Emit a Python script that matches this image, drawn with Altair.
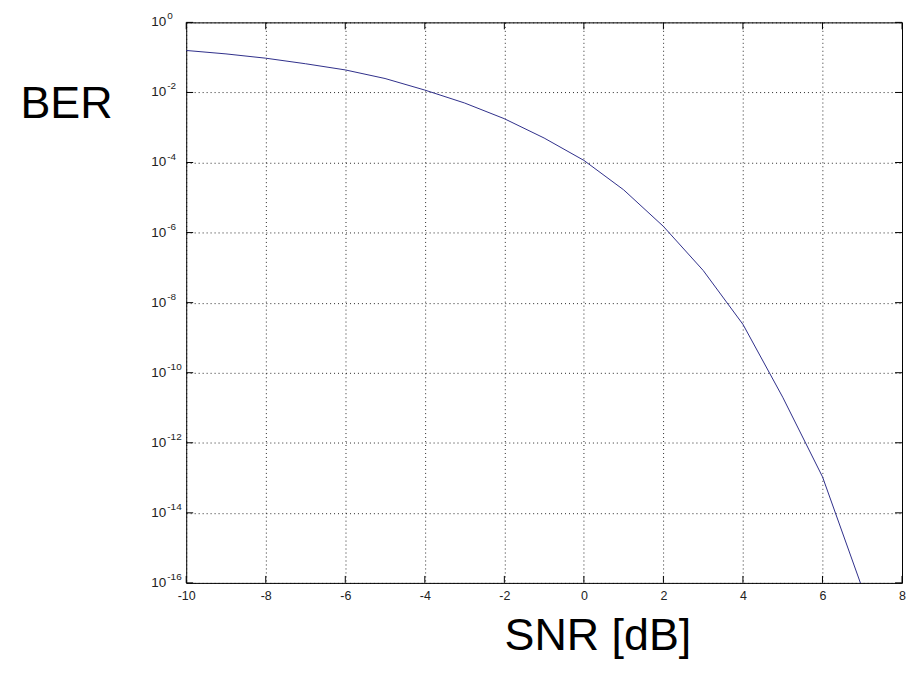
import altair as alt
import pandas as pd

# Data (SNR in dB, bit error rate)
SNR_DB = [-10, -9, -8, -7, -6, -5, -4, -3, -2, -1, 0, 1, 2, 3, 4, 5, 6, 7]
BER = [1.58e-1, 1.26e-1, 9.5e-2, 6.6e-2, 4.4e-2, 2.5e-2, 1.17e-2, 5.0e-3,
       1.78e-3, 5.0e-4, 1.15e-4, 1.66e-5, 1.5e-6, 8.3e-8, 2.4e-9, 2.0e-11,
       1.07e-13, 7.1e-17]

X_TICKS = [-10, -8, -6, -4, -2, 0, 2, 4, 6, 8]
Y_TICKS = [1e0, 1e-2, 1e-4, 1e-6, 1e-8, 1e-10, 1e-12, 1e-14, 1e-16]
Y_TICK_BASE = ["10"] * len(Y_TICKS)
Y_TICK_EXP = ["0", "-2", "-4", "-6", "-8", "-10", "-12", "-14", "-16"]

W, H = 719, 563
FONT = "Liberation Sans"

df = pd.DataFrame({"snr": SNR_DB, "ber": BER})
xt = pd.DataFrame({"snr": X_TICKS})
yt = pd.DataFrame({"ber": Y_TICKS, "base": Y_TICK_BASE, "exp": Y_TICK_EXP})

x_scale = alt.Scale(domain=[-10, 8], nice=False, zero=False)
y_scale = alt.Scale(type="log", domain=[1e-16, 1], nice=False)

x_axis = alt.Axis(
    values=X_TICKS, title="SNR [dB]", labelExpr="'' + datum.value",
    tickSize=0, domain=False, grid=True, gridColor="black", gridDash=[1, 3],
    gridWidth=1, gridOpacity=0.85, labelFont=FONT, labelFontSize=12.5,
    labelColor="#222222", labelPadding=7, labelFlush=False, labelOverlap=False,
    titleFont=FONT, titleFontSize=45, titleFontWeight="normal", titleColor="black",
    titleX=413, titleY=67, titleAlign="center", titleBaseline="alphabetic",
)
y_axis = alt.Axis(
    values=Y_TICKS, title="BER", labels=False,
    tickSize=0, domain=False, grid=True, gridColor="black", gridDash=[1, 3],
    gridWidth=1, gridOpacity=0.85,
    titleFont=FONT, titleFontSize=45, titleFontWeight="normal", titleColor="black",
    titleAngle=0, titleX=-167, titleY=96, titleAlign="left", titleBaseline="alphabetic",
)

line = alt.Chart(df).mark_line(color="#2e2e8a", strokeWidth=1, clip=True).encode(
    x=alt.X("snr:Q", scale=x_scale, axis=x_axis),
    y=alt.Y("ber:Q", scale=y_scale, axis=y_axis),
)

tick_len = 7
bottom_ticks = alt.Chart(xt).mark_rule(color="black").encode(
    x=alt.X("snr:Q", scale=x_scale), y=alt.value(H), y2=alt.value(H - tick_len))
top_ticks = alt.Chart(xt).mark_rule(color="black").encode(
    x=alt.X("snr:Q", scale=x_scale), y=alt.value(0), y2=alt.value(tick_len))
left_ticks = alt.Chart(yt).mark_rule(color="black").encode(
    y=alt.Y("ber:Q", scale=y_scale), x=alt.value(0), x2=alt.value(tick_len))
right_ticks = alt.Chart(yt).mark_rule(color="black").encode(
    y=alt.Y("ber:Q", scale=y_scale), x=alt.value(W), x2=alt.value(W - tick_len))

# y tick labels as "10" with a raised exponent
y_base = alt.Chart(yt).mark_text(
    font=FONT, fontSize=13.5, color="#222222", align="left", baseline="middle"
).encode(y=alt.Y("ber:Q", scale=y_scale), x=alt.value(-35), text="base:N")
y_exp = alt.Chart(yt).mark_text(
    font=FONT, fontSize=10, color="#222222", align="left", baseline="alphabetic", dy=-3
).encode(y=alt.Y("ber:Q", scale=y_scale), x=alt.value(-19), text="exp:N")

chart = alt.layer(line, bottom_ticks, top_ticks, left_ticks, right_ticks, y_base, y_exp).properties(
    width=W, height=H,
    autosize=alt.AutoSizeParams(type="none"),
    padding={"left": 179, "top": 13, "right": 4, "bottom": 77},
    background="white",
).configure_view(stroke="black", strokeWidth=1)

chart.save("out.html", embed_options={"renderer": "svg", "actions": False})
